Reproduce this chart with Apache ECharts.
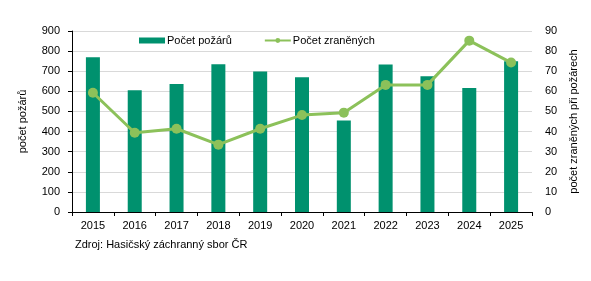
<!DOCTYPE html>
<html>
<head>
<meta charset="utf-8">
<script src="https://cdn.jsdelivr.net/npm/echarts@6/dist/echarts.min.js"></script>
<style>
  html, body { margin: 0; padding: 0; background: #fff; }
  #chart { width: 591px; height: 281px; }
</style>
</head>
<body>
<div id="chart"></div>
<script>
// roky
const years = ['2015', '2016', '2017', '2018', '2019', '2020', '2021', '2022', '2023', '2024', '2025'];
// počet požárů (levá osa)
const fires = [770, 606, 636, 735, 698, 670, 455, 734, 675, 616, 750];
// počet zraněných (pravá osa)
const injured = [59.3, 39.4, 41.4, 33.5, 41.4, 48.2, 49.4, 63.2, 63.2, 85.2, 74.3];

const font = 'Liberation Sans, Arial, sans-serif';
const chart = echarts.init(document.getElementById('chart'), null, { renderer: 'canvas' });

const option = {
  animation: false,
  textStyle: { fontFamily: font },
  legend: {
    left: 139,
    top: 35,
    padding: 0,
    itemGap: 32,
    itemWidth: 26,
    itemHeight: 6,
    textStyle: { fontFamily: font, fontSize: 11, color: '#000', padding: [0, 0, 0, -3] },
    data: [
      { name: 'Počet požárů', icon: 'rect' },
      { name: 'Počet zraněných' }
    ]
  },
  grid: {
    left: 72,
    right: 59,
    top: 31,
    bottom: 69
  },
  xAxis: {
    type: 'category',
    data: years,
    axisLine: { lineStyle: { color: '#000', width: 1 } },
    axisTick: { show: true, length: 4, lineStyle: { color: '#000' } },
    axisLabel: { color: '#000', fontSize: 11, margin: 8, fontFamily: font }
  },
  yAxis: [
    {
      type: 'value',
      min: 0,
      max: 900,
      interval: 100,
      name: 'počet požárů',
      nameLocation: 'middle',
      nameRotate: 90,
      nameGap: 44,
      nameTextStyle: { fontSize: 11, color: '#000', fontFamily: font },
      axisLine: { show: true, lineStyle: { color: '#000', width: 1 } },
      axisTick: { show: true, length: 4, lineStyle: { color: '#000' } },
      axisLabel: { color: '#000', fontSize: 11, margin: 12, fontFamily: font },
      splitLine: { lineStyle: { color: '#d9d9d9', width: 1 } }
    },
    {
      type: 'value',
      min: 0,
      max: 90,
      interval: 10,
      position: 'right',
      name: 'počet zraněných při požárech',
      nameLocation: 'middle',
      nameRotate: 90,
      nameGap: 34,
      nameTextStyle: { fontSize: 11, color: '#000', fontFamily: font },
      axisLine: { show: false },
      axisTick: { show: false },
      axisLabel: { color: '#000', fontSize: 11, margin: 13, fontFamily: font },
      splitLine: { show: false }
    }
  ],
  series: [
    {
      name: 'Počet požárů',
      type: 'bar',
      data: fires,
      barWidth: 14,
      itemStyle: { color: '#00916E' }
    },
    {
      name: 'Počet zraněných',
      type: 'line',
      yAxisIndex: 1,
      data: injured,
      symbol: 'circle',
      symbolSize: 10,
      lineStyle: { color: '#8CC15A', width: 3 },
      itemStyle: { color: '#8CC15A' }
    }
  ],
  graphic: [
    {
      type: 'text',
      left: 75,
      top: 239,
      style: {
        text: 'Zdroj: Hasičský záchranný sbor ČR',
        fontSize: 11,
        fontFamily: font,
        fill: '#000'
      }
    }
  ]
};

chart.setOption(option);
</script>
</body>
</html>
